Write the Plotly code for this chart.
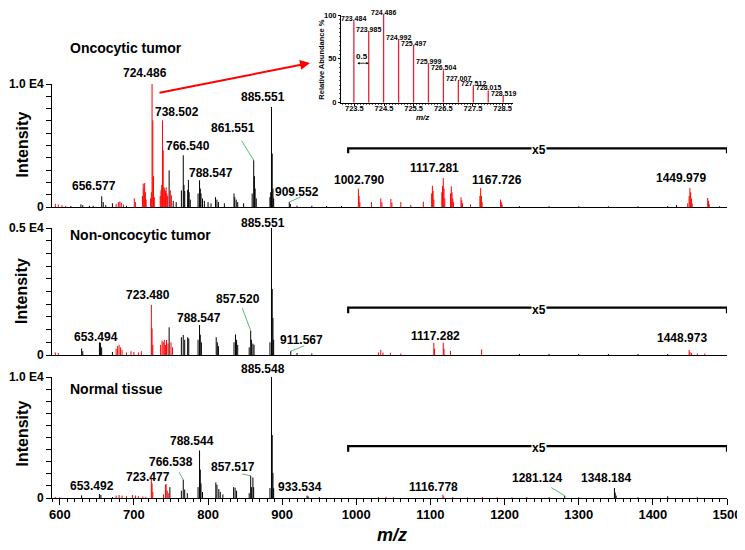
import plotly.graph_objects as go

FONT = "Arial, 'Liberation Sans', sans-serif"
RED = "#ff0000"
BLACK = "#000000"
GREEN = "#2fa84f"

# ---------------- data (m/z, displayed intensity) ----------------
# Oncocytic tumor (intensities above ~990 m/z shown x5)
onco_red_mz = [594, 598, 603, 608, 676, 679, 681, 683, 686, 700.5, 702, 711.5, 712.5, 713.5,
               714.5, 715.5, 716.5, 722.5, 723.5, 724.486, 725.49, 726.49, 727.5, 735.5, 736.5,
               737.5, 738.502, 739.5, 740.5, 741.5, 742.5, 743.5, 744.5, 745.5, 749, 750.5,
               1002.790, 1003.8, 1004.8, 1020.5, 1033, 1034.5, 1046.6, 1048, 1060, 1073.5,
               1090.4, 1101.6, 1102.6, 1103.6, 1104.6, 1115.3, 1116.3, 1117.281, 1118.3,
               1119.3, 1127.1, 1128.1, 1129.1, 1130.1, 1131, 1141.2, 1142.2, 1143.2,
               1154, 1166.7, 1167.726, 1168.7, 1169.7, 1194.6, 1195.6, 1196.6,
               1447, 1448.9, 1449.979, 1450.98, 1452, 1453, 1474, 1475, 1476]
onco_red_int = [250, 200, 150, 100, 250, 400, 450, 350, 200, 700, 400, 900, 1900, 1500,
                1950, 1200, 600, 700, 1200, 10000, 7050, 2500, 800, 900, 1350,
                1800, 7050, 4600, 1600, 1500, 1300, 1600, 1100, 900, 1350, 950,
                1490, 900, 400, 400, 700, 400, 650, 350, 400, 160,
                430, 1100, 1730, 1300, 600, 1200, 1700, 2360, 1500,
                700, 1100, 1680, 1200, 700, 400, 790, 550, 300,
                220, 900, 1540, 900, 400, 600, 400, 200,
                300, 900, 1540, 1200, 700, 300, 730, 500, 250]
onco_black_mz = [615, 628.5, 631, 640, 645, 656.577, 658.6, 662, 671, 690, 747.5, 753, 757,
                 764, 766.540, 767.54, 768.55, 772.5, 773.5, 774.5, 776, 786.5, 788.547,
                 789.55, 790.5, 792.5, 795, 800, 804, 810, 812, 814, 822, 835, 836, 838, 840,
                 848, 859.5, 861.551, 862.55, 863.5, 865, 883.5, 884.5, 885.551, 886.55,
                 887.56, 888.5, 909.552, 911, 920, 940, 960, 980, 1220, 1260, 1300, 1340,
                 1380, 1420, 1432, 1490]
onco_black_int = [80, 220, 150, 100, 100, 870, 400, 150, 300, 100, 2980, 500, 400,
                  1350, 4200, 1800, 1300, 1400, 2200, 1200, 600, 1100, 2170,
                  1500, 1100, 700, 500, 400, 300, 800, 600, 400, 300, 1100, 800, 600, 400,
                  300, 1100, 3800, 2500, 1500, 700, 800, 1200, 8130, 4340,
                  1500, 700, 400, 250, 100, 100, 80, 80, 60, 60, 60, 60,
                  60, 80, 160, 60]

# Non-oncocytic tumor
non_red_mz = [594, 598, 676, 678, 680, 682, 684, 690, 696, 700, 706, 710, 723.480, 724.48,
              725.5, 736, 738, 739.5, 741, 742.5, 744, 746, 750, 752, 1030, 1033, 1036,
              1046, 1060, 1104.5, 1105.5, 1117.282, 1118.3, 1127, 1169, 1448.973, 1450,
              1452, 1460, 1470]
non_red_int = [100, 80, 250, 350, 400, 300, 200, 100, 150, 120, 100, 150, 1970, 1050,
               400, 400, 560, 500, 600, 400, 590, 450, 500, 300, 100, 200, 90,
               90, 60, 480, 250, 485, 250, 160, 220, 200, 120, 80, 60, 60]
non_black_mz = [629.5, 631, 653.494, 655, 656.5, 671, 747.5, 764, 766.5, 768.5, 772.5, 774,
                786.5, 788.547, 789.5, 791, 811, 812.5, 814, 835, 837, 838.5, 840, 855.5,
                857.520, 858.5, 860.5, 862, 883.5, 885.551, 886.55, 887.55, 888.5,
                911.567, 920, 940, 1220, 1260, 1300, 1340, 1380, 1420]
non_black_int = [260, 150, 500, 480, 300, 120, 1090, 700, 790, 600, 700, 650,
                 600, 1180, 800, 500, 700, 500, 350, 500, 810, 600, 400, 300,
                 960, 600, 450, 400, 500, 5000, 2600, 1460, 600,
                 150, 80, 60, 40, 40, 40, 40, 40, 40]

# Normal tissue
norm_red_mz = [594, 600, 676, 680, 684, 690, 698, 702, 706, 712, 716, 723.477, 724.48,
               725.5, 740, 742.5, 743.5, 745, 747, 1030, 1040, 1050, 1116.778, 1118, 1130,
               1150, 1170, 1190, 1210]
norm_red_int = [80, 60, 200, 250, 200, 150, 250, 200, 150, 120, 100, 1700, 1200,
                500, 300, 1100, 1150, 600, 400, 80, 100, 80, 275, 120, 80,
                60, 80, 60, 60]
norm_black_mz = [629.5, 653.492, 655.5, 671, 748.5, 764, 766.538, 768.5, 772, 786.5, 788.544,
                 789.55, 790.5, 792.5, 810.5, 812, 814.5, 816.5, 820, 834.5, 836.5, 838.5,
                 855.5, 857.517, 858.5, 860.5, 861.5, 883.5, 885.548, 886.55, 887.55, 888.5,
                 933.534, 935, 950, 1230, 1260, 1281.124, 1300, 1348.184, 1349.2, 1350.5,
                 1380, 1420, 1460]
norm_black_int = [220, 330, 250, 80, 900, 600, 1510, 700, 400, 900, 3930,
                  2340, 1200, 500, 1290, 1100, 740, 500, 300, 900, 850, 600,
                  400, 1840, 900, 1700, 900, 820, 10000, 5200, 2070, 800,
                  200, 120, 80, 60, 60, 190, 60, 826, 450, 200,
                  60, 150, 60]

# Inset: isotope pattern of m/z 724.486
inset_mz = [723.484, 723.985, 724.486, 724.992, 725.497, 725.999, 726.504, 727.007,
            727.512, 728.015, 728.519]
inset_abund = [93, 81, 100, 72, 65, 44, 37, 25, 19, 14, 8]

# peak labels: (text, centre x, centre y) in reference-picture pixels
labels_p1 = [("724.486", 144.7, 72.7), ("738.502", 176.7, 111.7), ("766.540", 187.7, 145.7),
             ("788.547", 210.7, 172.7), ("656.577", 94.3, 186), ("861.551", 233.3, 128.3),
             ("885.551", 263.3, 96.7), ("909.552", 296.7, 191.7), ("1002.790", 358.5, 180),
             ("1117.281", 434, 168.3), ("1167.726", 496.7, 180), ("1449.979", 680.7, 177.7)]
labels_p2 = [("885.551", 263.3, 222.7), ("723.480", 148, 295), ("857.520", 237.7, 299.3),
             ("788.547", 198.7, 318.3), ("653.494", 95.8, 336.7), ("911.567", 301, 340),
             ("1117.282", 435.8, 335.7), ("1448.973", 681.7, 337.7)]
labels_p3 = [("885.548", 263.3, 369.3), ("788.544", 192.2, 441), ("766.538", 170.8, 461.7),
             ("857.517", 233.3, 467.3), ("653.492", 92, 485.7), ("723.477", 147.7, 477.3),
             ("933.534", 299.7, 486.7), ("1116.778", 433.3, 486.7), ("1281.124", 536.7, 477.7),
             ("1348.184", 605.8, 477.7)]

# ---------------- layout geometry ----------------
# the page body has an 8 px margin, so the figure is drawn 8 px smaller and
# every reference-pixel position is shifted by that amount
OFF = 8
FW, FH = 745 - OFF, 550 - OFF
PL, PR, PT, PB = 52, 727, 13, 498          # plot area in reference pixels
W, H = PR - PL, PB - PT


def pp(px, py):
    return (px - PL) / W, (PB - py) / H


def sticks(mz, inten):
    xs, ys = [], []
    for m, h in zip(mz, inten):
        xs += [m, m, None]
        ys += [0, h, None]
    return xs, ys


fig = go.Figure()
panels = [
    ("x", "y", onco_red_mz, onco_red_int, onco_black_mz, onco_black_int),
    ("x2", "y2", non_red_mz, non_red_int, non_black_mz, non_black_int),
    ("x3", "y3", norm_red_mz, norm_red_int, norm_black_mz, norm_black_int),
]
for xa, ya, rm, ri, bm, bi in panels:
    bx, by = sticks(bm, bi)
    fig.add_trace(go.Scatter(x=bx, y=by, mode="lines", line=dict(color=BLACK, width=1),
                             xaxis=xa, yaxis=ya, showlegend=False, hoverinfo="skip"))
    rx, ry = sticks(rm, ri)
    fig.add_trace(go.Scatter(x=rx, y=ry, mode="lines", line=dict(color=RED, width=1),
                             xaxis=xa, yaxis=ya, showlegend=False, hoverinfo="skip"))

ix, iy = sticks(inset_mz, inset_abund)
fig.add_trace(go.Scatter(x=ix, y=iy, mode="lines", line=dict(color="#e8203a", width=1.3),
                         xaxis="x4", yaxis="y4", showlegend=False, hoverinfo="skip"))

XR = [589.5, 1500]
bold12 = dict(family=FONT, size=12, color=BLACK, weight="bold")


def yax(dom, top, toptext, anchor):
    return dict(domain=dom, range=[0, top], anchor=anchor, tickmode="array",
                tickvals=[top * i / 10 for i in range(11)],
                ticktext=["0"] + [""] * 9 + [toptext], ticks="outside", ticklen=5,
                tickcolor=BLACK, showline=True, linecolor=BLACK, linewidth=1,
                showgrid=False, zeroline=False, tickfont=bold12, automargin=False)


def xax_hidden(anchor):
    return dict(domain=[0, 1], range=XR, anchor=anchor, showline=True, linecolor=BLACK,
                linewidth=1, ticks="", showticklabels=False, showgrid=False, zeroline=False,
                automargin=False)


d1 = [pp(0, 207)[1], pp(0, 84)[1]]
d2 = [pp(0, 355)[1], pp(0, 228)[1]]
d3 = [0, pp(0, 377)[1]]

ix0, iy0 = pp(341, 102.7)
ix1, iy1 = pp(513.3, 15)

fig.update_layout(
    template="none",
    width=FW, height=FH,
    margin=dict(l=PL - OFF, r=FW - (PR - OFF), t=PT - OFF, b=FH - (PB - OFF), pad=0,
                autoexpand=False),
    paper_bgcolor="white", plot_bgcolor="white", showlegend=False,
    font=dict(family=FONT, color=BLACK),
    xaxis=xax_hidden("y"), xaxis2=xax_hidden("y2"),
    xaxis3=dict(domain=[0, 1], range=XR, anchor="y3", showline=True, linecolor=BLACK,
                linewidth=1, tickmode="linear", tick0=600, dtick=100, ticks="outside",
                ticklen=6, tickcolor=BLACK, automargin=False, ticklabelstandoff=-2,
                tickfont=dict(family=FONT, size=13, color=BLACK, weight="bold"),
                minor=dict(dtick=10, ticks="outside", ticklen=3, tickcolor=BLACK),
                showgrid=False, zeroline=False),
    yaxis=yax(d1, 10000, "1.0 E4", "x"),
    yaxis2=yax(d2, 5000, "0.5 E4", "x2"),
    yaxis3=yax(d3, 10000, "1.0 E4", "x3"),
    xaxis4=dict(domain=[ix0, ix1], range=[723.05, 728.86], anchor="y4", showline=True,
                linecolor=BLACK, linewidth=1, tickmode="linear", tick0=723.5, dtick=1,
                tickformat=".1f", ticks="outside", ticklen=2, tickcolor=BLACK,
                automargin=False, ticklabelstandoff=-4,
                tickfont=dict(family=FONT, size=7.5, color=BLACK, weight="bold"),
                minor=dict(dtick=0.1, ticks="outside", ticklen=1.5, tickcolor="#555"),
                showgrid=False, zeroline=False),
    yaxis4=dict(domain=[iy0, iy1], range=[0, 100], anchor="x4", showline=True,
                linecolor=BLACK, linewidth=1, tickmode="linear", tick0=0, dtick=50,
                ticks="outside", ticklen=2, tickcolor=BLACK, automargin=False,
                tickfont=dict(family=FONT, size=7.5, color=BLACK, weight="bold"),
                minor=dict(dtick=5, ticks="outside", ticklen=1.5, tickcolor="#555"),
                showgrid=False, zeroline=False),
)

ann = []


def text_px(t, px, py, size=12, xanchor="center", italic=False, angle=0, bg=None):
    x, y = pp(px, py)
    a = dict(text=t, x=x, y=y, xref="paper", yref="paper", showarrow=False,
             xanchor=xanchor, yanchor="middle", textangle=angle,
             font=dict(family=FONT, size=size, color=BLACK, weight="bold",
                       style="italic" if italic else "normal"))
    if bg:
        a.update(bgcolor=bg, borderpad=0)
    ann.append(a)


for lst in (labels_p1, labels_p2, labels_p3):
    for t, cx, cy in lst:
        text_px(t, cx, cy)

text_px("Oncocytic tumor", 67.7, 48.3, size=14, xanchor="left")
text_px("Non-oncocytic tumor", 67.7, 235, size=14, xanchor="left")
text_px("Normal tissue", 67.7, 389.3, size=14, xanchor="left")
for cy in (145, 291.5, 434):
    text_px("Intensity", 21.5, cy, size=16, angle=-90)
text_px("m/z", 391.7, 535, size=18, italic=True)

# x5 brackets
brackets = [("x", "y", 4772, 4366, 149.5), ("x2", "y2", 1862, 1642, 309.5),
            ("x3", "y3", 4295, 3825, 448)]
shapes = []
for xa, ya, ytop, ytick, ty in brackets:
    shapes.append(dict(type="path", xref=xa, yref=ya,
                       path=f"M 989,{ytick} L 989,{ytop} L 1500,{ytop} L 1500,{ytick}",
                       line=dict(color=BLACK, width=2.2)))
    text_px("x5", 539, ty, size=12, bg="white")

# green leader lines anchored at peak tops
leaders = [("x", "y", 861.551, 3800, -13, -21), ("x", "y", 909.552, 400, 13, -6),
           ("x2", "y2", 857.520, 960, -9, -24), ("x2", "y2", 911.567, 150, 15, -6),
           ("x3", "y3", 766.538, 1510, -5, -9), ("x3", "y3", 857.517, 1840, -10, -2),
           ("x3", "y3", 1281.124, 190, -15, -9)]
for xa, ya, m, h, ax, ay in leaders:
    ann.append(dict(text="", x=m, y=h, xref=xa, yref=ya, showarrow=True, arrowhead=0,
                    arrowwidth=0.8, arrowcolor=GREEN, ax=ax, ay=ay, standoff=0))

# big red arrow to the inset
hx, hy = pp(310, 63)
ann.append(dict(text="", x=hx, y=hy, xref="paper", yref="paper", showarrow=True,
                arrowhead=2, arrowsize=1, arrowwidth=2, arrowcolor=RED, ax=-152, ay=30))

# inset labels
for m, a in zip(inset_mz, inset_abund):
    ann.append(dict(text=f"{m:.3f}", x=m, y=a, xref="x4", yref="y4", showarrow=False,
                    xanchor="center", yanchor="bottom", yshift=-3,
                    font=dict(family=FONT, size=7, color=BLACK, weight="bold")))
ann.append(dict(text="", x=723.985, y=45, xref="x4", yref="y4", ax=723.55, ay=45,
                axref="x4", ayref="y4", showarrow=True, arrowhead=2, startarrowhead=2,
                arrowside="end+start", arrowsize=0.6, arrowwidth=0.8, arrowcolor=BLACK))
ann.append(dict(text="0.5", x=723.77, y=53, xref="x4", yref="y4", showarrow=False,
                font=dict(family=FONT, size=8, color=BLACK, weight="bold")))
text_px("Relative Abundance %", 321.7, 60, size=7.5, angle=-90)
text_px("m/z", 423, 117, size=8, italic=True)

fig.update_layout(annotations=ann, shapes=shapes)
fig.write_html("out.html")
